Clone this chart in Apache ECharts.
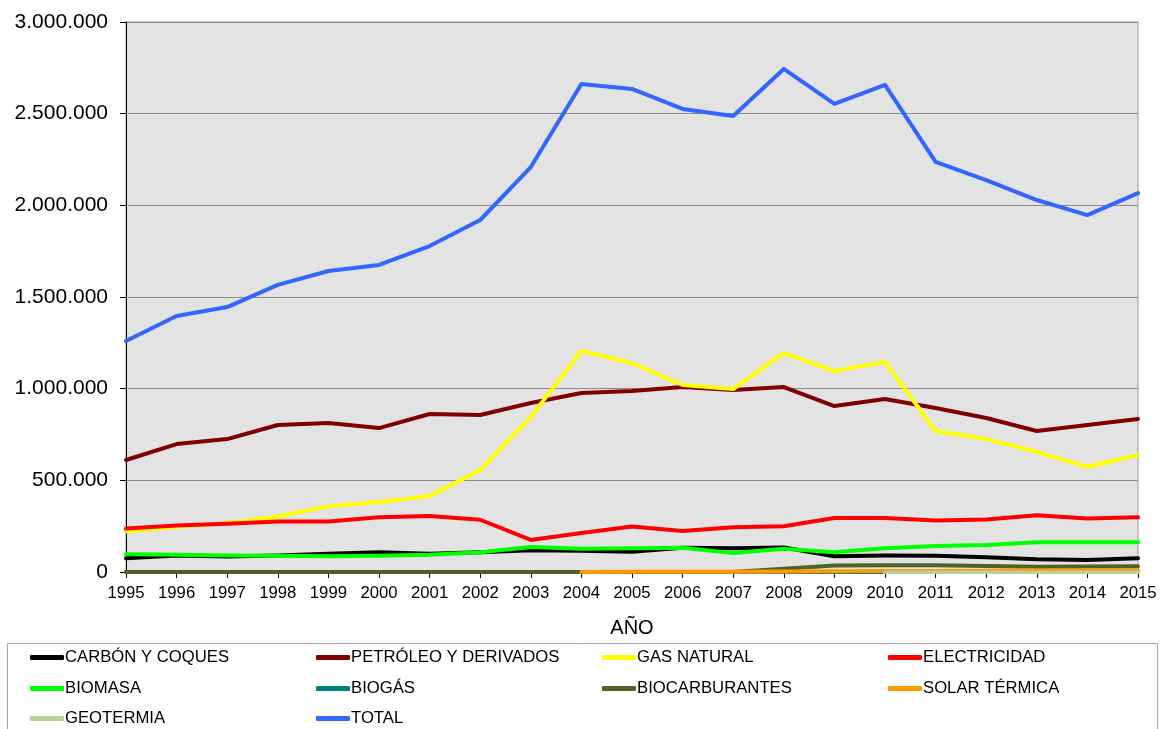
<!DOCTYPE html>
<html><head><meta charset="utf-8">
<script src="https://cdn.jsdelivr.net/npm/echarts@6/dist/echarts.min.js"></script>
<style>html,body{margin:0;padding:0;background:#fff}#c{width:1161px;height:729px}</style>
</head><body><div id="c"></div>
<script>
const years = ['1995','1996','1997','1998','1999','2000','2001','2002','2003','2004','2005','2006','2007','2008','2009','2010','2011','2012','2013','2014','2015'];
const yTicks = [0, 500000, 1000000, 1500000, 2000000, 2500000, 3000000];
const carbon = [75000,90000,85000,90000,99000,108000,99000,108000,119000,116000,110000,132000,130000,134000,86000,90000,88000,81000,70000,66000,75000];
const petroleo = [611000,698000,725000,802000,813000,785000,862000,856000,922000,976000,987000,1009000,993000,1009000,905000,944000,895000,840000,769000,802000,835000];
const gas = [221000,245000,267000,303000,358000,382000,414000,556000,845000,1206000,1140000,1020000,998000,1195000,1096000,1146000,769000,725000,655000,573000,638000];
const electricidad = [237000,254000,263000,276000,276000,298000,305000,285000,175000,213000,248000,224000,244000,250000,294000,294000,281000,287000,309000,292000,298000];
const biomasa = [97000,94000,90000,88000,86000,88000,94000,108000,136000,127000,129000,132000,103000,127000,108000,130000,142000,147000,162000,162000,162000];
const biogas = [0,0,0,0,0,0,0,0,0,0,0,0,0,0,0,0,0,0,0,0,1000];
const biocarburantes = [0,0,0,0,0,0,0,0,0,0,0,0,0,18000,35000,37000,37000,33000,28000,30000,31000];
const solar = [null,null,null,null,null,null,null,null,null,500,1000,1500,2000,3000,4000,5000,6000,7000,8000,9000,10000];
const geotermia = [null,null,null,null,null,null,null,null,null,null,null,null,null,null,null,-3000,-3000,-3000,-3000,-3000,-3000];
const total = [1260000,1396000,1445000,1566000,1642000,1675000,1778000,1920000,2209000,2662000,2635000,2526000,2487000,2744000,2553000,2657000,2237000,2138000,2029000,1947000,2067000];

const seriesNames = ['CARBÓN Y COQUES','PETRÓLEO Y DERIVADOS','GAS NATURAL','ELECTRICIDAD','BIOMASA','BIOGÁS','BIOCARBURANTES','SOLAR TÉRMICA','GEOTERMIA','TOTAL'];
const seriesData = [carbon, petroleo, gas, electricidad, biomasa, biogas, biocarburantes, solar, geotermia, total];
const colors = ['#000000','#800000','#ffff00','#ff0000','#00ff00','#008080','#4f6228','#ff9900','#b7d198','#3366ff'];

function fmt(v){ return String(v).replace(/\B(?=(\d{3})+(?!\d))/g,'.'); }

const colX = [30, 316, 602, 888];
const rowY = [649, 680, 710];
const legends = seriesNames.map((n,i)=>({
  data:[n], left: colX[i%4], top: rowY[Math.floor(i/4)],
  icon:'roundRect', itemWidth:34, itemHeight:5, itemGap:0,
  textStyle:{fontFamily:'Liberation Sans, Arial, sans-serif', fontSize:16.7, color:'#000', padding:[0,0,0,-4]},
  selectedMode:false, padding:0
}));

const chart = echarts.init(document.getElementById('c'), null, {renderer:'canvas'});
chart.setOption({
  animation:false,
  color: colors,
  grid:{left:126, right:23, top:22, bottom:157, show:true, backgroundColor:'#e3e3e3', borderColor:'#9a9a9a', borderWidth:1},
  legend: legends,
  graphic:[{type:'rect', left:5, top:641, shape:{width:1150, height:100}, style:{fill:'none', stroke:'#a6a6a6', lineWidth:1}, silent:true, z:-1}],
  xAxis:{type:'category', data:years, boundaryGap:false,
    name:'AÑO', nameLocation:'middle', nameGap:46,
    nameTextStyle:{fontFamily:'Liberation Sans, Arial, sans-serif', fontSize:20, color:'#000'},
    axisLine:{lineStyle:{color:'#000', width:1}},
    axisTick:{show:true, alignWithLabel:true, length:6, lineStyle:{color:'#000'}},
    axisLabel:{fontFamily:'Liberation Sans, Arial, sans-serif', fontSize:16.7, color:'#000', margin:13, interval:0},
    splitLine:{show:false}},
  yAxis:{type:'value', min:yTicks[0], max:yTicks[yTicks.length-1], interval:500000,
    axisLine:{show:true, lineStyle:{color:'#000', width:1}},
    axisTick:{show:true, length:6, lineStyle:{color:'#000'}},
    axisLabel:{fontFamily:'Liberation Sans, Arial, sans-serif', fontSize:21, color:'#000', margin:18, formatter:v=>fmt(v)},
    splitLine:{show:true, lineStyle:{color:'#8c8c8c', width:1}}},
  series: seriesNames.map((n,i)=>({
    name:n, type:'line', data:seriesData[i], showSymbol:false, symbol:'none',
    lineStyle:{width:4, color:colors[i], join:'round', cap:'round'},
    itemStyle:{color:colors[i]}, connectNulls:false, z:2+i
  }))
});
</script></body></html>
